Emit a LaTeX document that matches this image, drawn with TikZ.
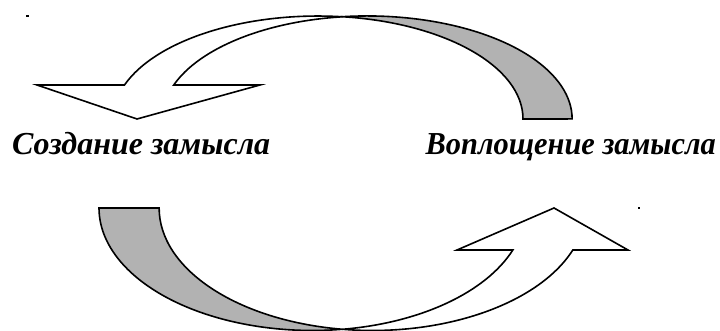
\documentclass[tikz,border=0pt]{standalone}
\usepackage{fontspec}
\setmainfont{Liberation Serif}
\begin{document}
\begin{tikzpicture}[x=1pt,y=1pt]
\tikzset{
  front/.style={draw=black, line width=1.6pt, fill=white},
  back/.style={draw=black, line width=1.6pt, fill=black!30},
  lbl/.style={font=\fontsize{32}{38}\selectfont\bfseries\itshape, inner sep=0pt},
  ell/.style={x radius=205, y radius=103},
  ellb/.style={x radius=213.4, y radius=122.5}
}
\useasboundingbox (0,0) rectangle (720,331);
% top curved arrow (pointing down-left)
\draw[front] (124.5,246) arc[ell, start angle=160.7, end angle=83.1]
  arc[ell, start angle=96.9, end angle=160.7]
  -- (260,246) -- (137,212) -- (37,246) -- cycle;
\draw[back] (342.5,314.3) arc[ell, start angle=96.9, end angle=0]
  -- (523,212) arc[ell, start angle=0, end angle=83.1] -- cycle;
% bottom curved arrow (pointing up-right)
\draw[back] (99,123) arc[ellb, start angle=180, end angle=278.1]
  arc[ellb, start angle=261.9, end angle=180] -- cycle;
\draw[front] (342.4,1.7) arc[ellb, start angle=-81.9, end angle=-20.05]
  -- (457,81) -- (554,123) -- (628,81) -- (572.8,81)
  arc[ellb, start angle=-20.05, end angle=-98.1] -- cycle;
% labels
\node[lbl, anchor=base west] (create) at (12,176) {Создание замысла};
\node[lbl, anchor=base east, xscale=0.95] (embody) at (716,176) {Воплощение замысла};
% stray dots
\fill (26,314) rectangle (29,316);
\fill (637.5,122) rectangle (640,124);
\end{tikzpicture}
\end{document}
